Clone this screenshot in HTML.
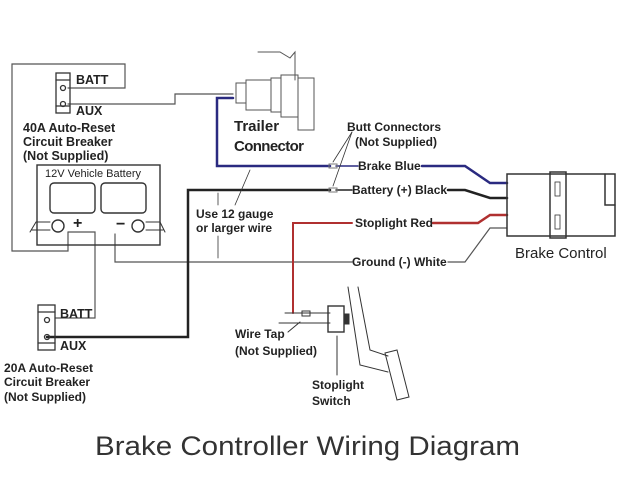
<!DOCTYPE html>
<html><head><style>body{margin:0;background:#fff}svg{display:block}</style></head><body>
<svg width="640" height="480" viewBox="0 0 640 480" xmlns="http://www.w3.org/2000/svg" font-family="Liberation Sans, sans-serif" fill="none" stroke-linecap="round">
<rect width="640" height="480" fill="#fff"/>
<g stroke="#555" stroke-width="1.2">
<polyline points="68,88 125,88 125,64 12,64 12,251 68,251 68,232"/>
<polyline points="68,104 175,104 175,94 233,94"/>
<polyline points="68,232 95,232 95,318 55,318"/>
<polyline points="115,234 115,262 352,262"/>
<polyline points="448,262 465,262 490,228 507,228"/>
</g>
<g stroke="#333" stroke-width="1.3">
<rect x="56" y="73" width="14" height="40"/>
<line x1="56" y1="80" x2="70" y2="80"/><line x1="56" y1="106" x2="70" y2="106"/>
<circle cx="63" cy="88" r="2.5"/><circle cx="63" cy="104" r="2.5"/>
</g>
<g fill="#222" font-weight="bold" font-size="12.5">
<text x="76" y="84">BATT</text><text x="76" y="115">AUX</text>
<text x="23" y="132">40A Auto-Reset</text><text x="23" y="146">Circuit Breaker</text><text x="23" y="160">(Not Supplied)</text>
</g>
<g stroke="#333" stroke-width="1.4">
<rect x="37" y="165" width="123" height="80"/>
<rect x="50" y="183" width="45" height="30" rx="4"/>
<rect x="101" y="183" width="45" height="30" rx="4"/>
<circle cx="58" cy="226" r="6"/><circle cx="138" cy="226" r="6"/>
<path d="M30,232 L36,222 L50,222 M32,230 L50,230" stroke-width="1"/>
<path d="M165,232 L160,222 L146,222 M163,230 L146,230" stroke-width="1"/>
</g>
<text x="45" y="177" fill="#222" font-size="11">12V Vehicle Battery</text>
<text x="73" y="228" fill="#222" font-weight="bold" font-size="16">+</text>
<text x="116" y="229" fill="#222" font-weight="bold" font-size="16">−</text>
<g stroke="#555" stroke-width="1">
<rect x="236" y="83" width="10" height="20"/>
<rect x="246" y="80" width="25" height="30"/>
<rect x="271" y="78" width="10" height="34"/>
<rect x="281" y="75" width="17" height="42"/>
<rect x="298" y="78" width="16" height="52"/>
<polyline points="258,52 280,52 290,58 295,52 295,80"/>
</g>
<polyline points="233,98 217,98 217,166 330,166" stroke="#2a2a80" stroke-width="2.5"/>
<g fill="#222" font-weight="bold" font-size="15">
<text x="234" y="131">Trailer</text><text x="234" y="151" textLength="70">Connector</text>
</g>
<polyline points="336,166 358,166" stroke="#2a2a80" stroke-width="1.5"/>
<polyline points="422,166 465,166 490,183 507,183" stroke="#2a2a80" stroke-width="2.5"/>
<polyline points="47,337 188,337 188,190 330,190" stroke="#222" stroke-width="2.5"/>
<polyline points="336,190 352,190" stroke="#222" stroke-width="1.5"/>
<polyline points="448,190 465,190 490,198 507,198" stroke="#222" stroke-width="2.5"/>
<rect x="329" y="164" width="8" height="4" stroke="#777" stroke-width="1"/>
<rect x="329" y="188" width="8" height="4" stroke="#777" stroke-width="1"/>
<g stroke="#333" stroke-width="0.8"><line x1="333" y1="162" x2="352" y2="132"/><line x1="333" y1="186" x2="352" y2="132"/></g>
<polyline points="293,313 293,223 352,223" stroke="#b03030" stroke-width="2"/>
<polyline points="433,223 478,223 490,215 507,215" stroke="#b03030" stroke-width="2.5"/>
<g fill="#222" font-weight="bold" font-size="12">
<text x="347" y="131">Butt Connectors</text><text x="355" y="146">(Not Supplied)</text>
<text x="358" y="170">Brake Blue</text>
<text x="352" y="194">Battery (+) Black</text>
<text x="355" y="227">Stoplight Red</text>
<text x="352" y="266">Ground (-) White</text>
<text x="196" y="218">Use 12 gauge</text><text x="196" y="232">or larger wire</text>
</g>
<g stroke="#333" stroke-width="0.8">
<line x1="218" y1="193" x2="218" y2="205"/><line x1="218" y1="236" x2="218" y2="258"/>
<line x1="235" y1="205" x2="250" y2="170"/>
</g>
<g stroke="#333" stroke-width="1.5">
<rect x="507" y="174" width="108" height="62"/>
<rect x="550" y="172" width="16" height="66"/>
<polyline points="605,174 605,205 615,205"/>
<rect x="555" y="182" width="5" height="14" stroke-width="0.8"/>
<rect x="555" y="215" width="5" height="14" stroke-width="0.8"/>
</g>
<text x="515" y="258" fill="#222" font-size="15">Brake Control</text>
<g stroke="#333" stroke-width="1.3">
<rect x="38" y="305" width="17" height="45"/>
<line x1="38" y1="312" x2="55" y2="312"/><line x1="38" y1="343" x2="55" y2="343"/>
<circle cx="47" cy="320" r="2.5"/><circle cx="47" cy="337" r="2.5"/>
</g>
<g fill="#222" font-weight="bold" font-size="12.5">
<text x="60" y="318">BATT</text><text x="60" y="350">AUX</text>
</g>
<g fill="#222" font-size="12" font-weight="bold">
<text x="4" y="372" textLength="89">20A Auto-Reset</text><text x="4" y="386">Circuit Breaker</text><text x="4" y="401">(Not Supplied)</text>
<text x="235" y="338">Wire Tap</text><text x="235" y="355">(Not Supplied)</text>
<text x="312" y="389">Stoplight</text><text x="312" y="405">Switch</text>
</g>
<g stroke="#333" stroke-width="1">
<line x1="285" y1="313" x2="330" y2="313"/><line x1="279" y1="323" x2="330" y2="323"/>
<rect x="302" y="311" width="8" height="5"/>
<rect x="328" y="306" width="16" height="26" stroke-width="1.4"/>
<rect x="344" y="314" width="5" height="10" fill="#333"/>
<line x1="300" y1="322" x2="288" y2="332"/>
<line x1="337" y1="336" x2="337" y2="375"/>
<polyline points="348,287 360,365 388,372"/>
<polyline points="358,287 370,350 388,356"/>
<polygon points="385,353 397,350 409,397 397,400"/>
</g>
<text x="95" y="455" fill="#333" font-size="27" textLength="425" lengthAdjust="spacingAndGlyphs">Brake Controller Wiring Diagram</text>
</svg>
</body></html>
